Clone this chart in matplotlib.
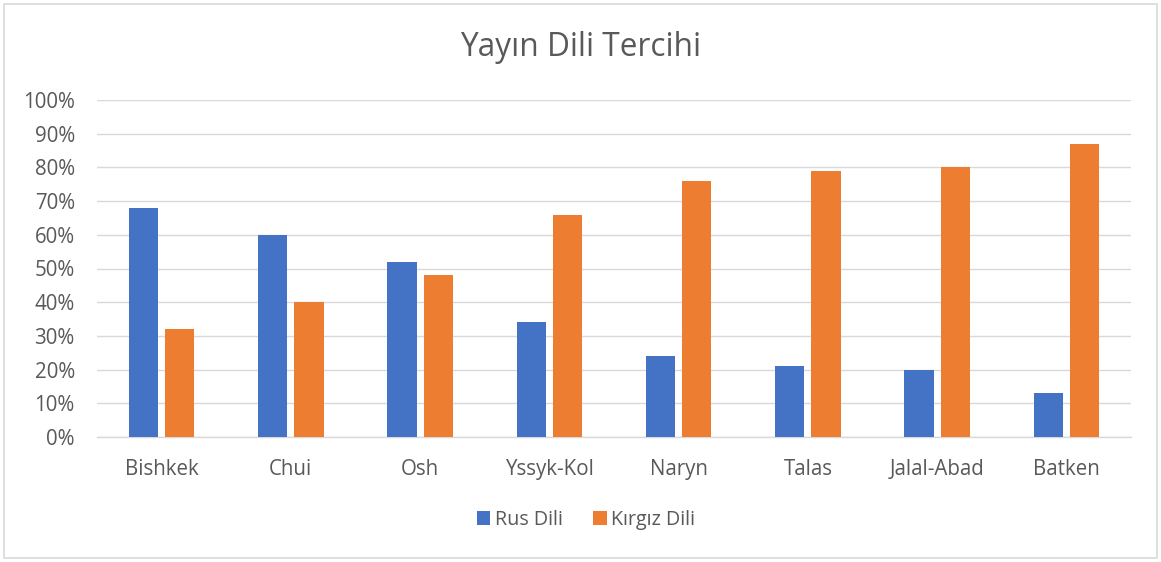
import numpy as np
import matplotlib
matplotlib.use("Agg")
import matplotlib.pyplot as plt
from matplotlib.patches import Rectangle
from matplotlib.ticker import PercentFormatter

bolgeler = ["Bishkek", "Chui", "Osh", "Yssyk-Kol", "Naryn", "Talas", "Jalal-Abad", "Batken"]
rus_dili = [68, 60, 52, 34, 24, 21, 20, 13]
kirgiz_dili = [32, 40, 48, 66, 76, 79, 80, 87]

plt.rcParams["font.family"] = ["Open Sans", "DejaVu Sans"]
yazi_rengi = "#595959"

fig = plt.figure(figsize=(11.61, 5.62), dpi=100)
ax = fig.add_axes([97 / 1161, 1 - 437 / 562, (1131 - 97) / 1161, (437 - 100) / 562])

x = np.arange(len(bolgeler))
w = 0.225
ax.bar(x - 0.14, rus_dili, w, color="#4472C4", label="Rus Dili", zorder=3)
ax.bar(x + 0.14, kirgiz_dili, w, color="#ED7D31", label="Kırgız Dili", zorder=3)

ax.set_xlim(-0.5, len(bolgeler) - 0.5)
ax.set_ylim(0, 100)
ax.set_yticks(np.arange(0, 101, 10))
ax.yaxis.set_major_formatter(PercentFormatter(decimals=0))
ax.set_xticks(x)
ax.set_xticklabels(bolgeler)
ax.grid(axis="y", color="#d9d9d9", linewidth=1.0, zorder=0)
ax.tick_params(axis="both", length=0, labelsize=14.8, labelcolor=yazi_rengi)
ax.tick_params(axis="x", pad=15.5)
ax.tick_params(axis="y", pad=16)
for s in ["top", "right", "left"]:
    ax.spines[s].set_visible(False)
ax.spines["bottom"].set_color("#d9d9d9")
ax.spines["bottom"].set_linewidth(1.0)

fig.text(0.5, 1 - 47 / 562, "Yayın Dili Tercihi", ha="center", va="center",
         fontsize=22.8, color=yazi_rengi)

fig.legend(loc="center", bbox_to_anchor=(586 / 1161, 1 - 520 / 562), ncol=2,
           frameon=False, fontsize=14.2, labelcolor=yazi_rengi, handlelength=0.7,
           handleheight=0.7, handletextpad=0.25, columnspacing=1.5)

fig.patches.append(Rectangle((4 / 1161, 4 / 562), 1153 / 1161, 554 / 562,
                             transform=fig.transFigure, fill=False,
                             edgecolor="#d9d9d9", linewidth=1.2))

fig.savefig("out.png", dpi=100)
